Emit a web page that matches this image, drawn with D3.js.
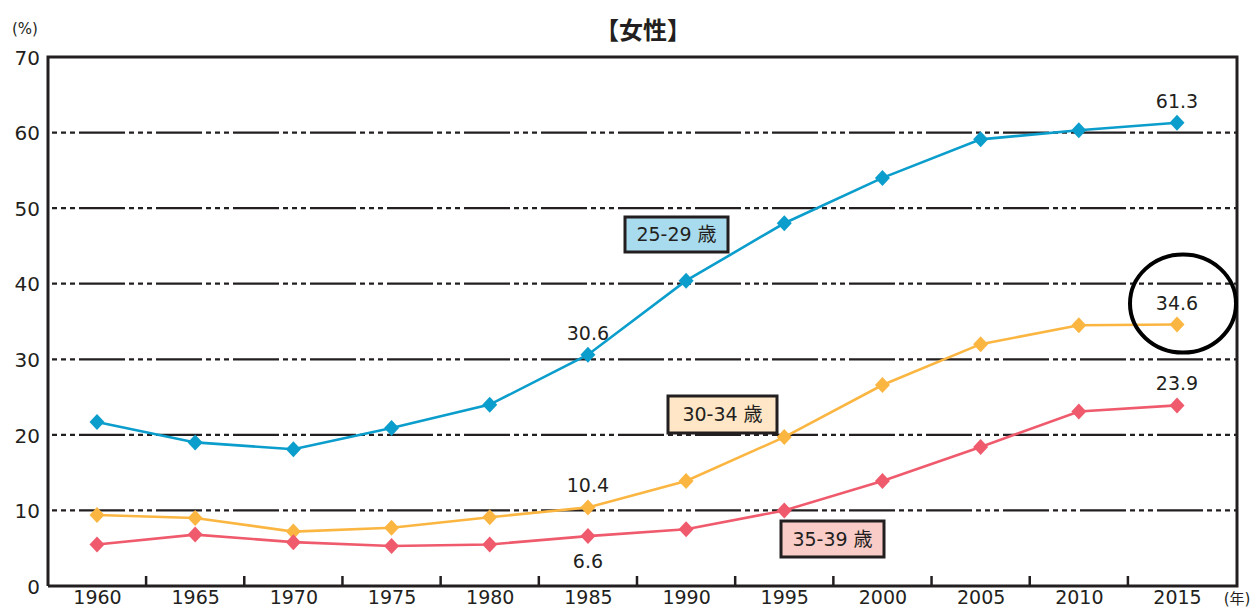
<!DOCTYPE html>
<html>
<head>
<meta charset="utf-8">
<script src="https://cdn.jsdelivr.net/npm/d3@7/dist/d3.min.js"></script>
<style>
  html, body { margin: 0; padding: 0; background: #fff; }
  svg { display: block; }
  text { font-family: "DejaVu Sans", "Noto Sans CJK JP", sans-serif; fill: #231f20; }
</style>
</head>
<body>
<svg id="chart" width="1258" height="611"></svg>
<script>
// Never-married rate of women by age group (%)
const years = [1960, 1965, 1970, 1975, 1980, 1985, 1990, 1995, 2000, 2005, 2010, 2015];
const age25to29 = [21.7, 19.0, 18.1, 20.9, 24.0, 30.6, 40.4, 48.0, 54.0, 59.1, 60.3, 61.3];
const age30to34 = [9.4, 9.0, 7.2, 7.7, 9.1, 10.4, 13.9, 19.7, 26.6, 32.0, 34.5, 34.6];
const age35to39 = [5.5, 6.8, 5.8, 5.3, 5.5, 6.6, 7.5, 10.0, 13.9, 18.4, 23.1, 23.9];
const seriesNames = ["25-29 歳", "30-34 歳", "35-39 歳"];
const yTicks = [0, 10, 20, 30, 40, 50, 60, 70];
const titleText = "【女性】";

const series = [
  { name: seriesNames[0], values: age25to29, color: "#0b9dcb", fill: "#a9dbee",
    box: [625, 217, 103, 35], notes: [[5, "above"], [11, "above"]] },
  { name: seriesNames[1], values: age30to34, color: "#fbb642", fill: "#fee6c6",
    box: [668, 396, 109, 37], notes: [[5, "above"], [11, "above"]] },
  { name: seriesNames[2], values: age35to39, color: "#ef5a6c", fill: "#f9ccc8",
    box: [781, 521, 103, 36], notes: [[5, "below"], [11, "above"]] }
];

const svg = d3.select("#chart");
const plotLeft = 48, plotRight = 1237, plotTop = 57, plotBottom = 586;

const x = d3.scaleLinear().domain([1960, 2015]).range([97, 1177]);
const y = d3.scaleLinear().domain([0, 70]).range([plotBottom, plotTop]);

// Title
svg.append("text").attr("x", 643).attr("y", 39).attr("text-anchor", "middle")
  .style("font-size", "24px").style("font-weight", "bold").text(titleText);

// Unit labels
svg.append("text").attr("x", 25).attr("y", 34).attr("text-anchor", "middle")
  .style("font-size", "15px").text("(%)");
svg.append("text").attr("x", 1237).attr("y", 604).attr("text-anchor", "middle")
  .style("font-size", "15px").text("(年)");

// Dash-dot gridlines
svg.append("g").selectAll("line.grid").data(yTicks.filter(t => t > 0 && t < 70)).join("line")
  .attr("class", "grid")
  .attr("x1", plotLeft).attr("x2", plotRight)
  .attr("y1", d => y(d)).attr("y2", d => y(d))
  .attr("stroke", "#231f20").attr("stroke-width", 2.2)
  .attr("stroke-dasharray", "46,4,5,4,5,4,5,4")
  .attr("stroke-dashoffset", 46);

// Frame: top, left, bottom, right
svg.append("path")
  .attr("d", `M${plotLeft},${plotBottom} V${y(70)} H${plotRight} V${plotBottom} H${plotLeft}`)
  .attr("stroke", "#231f20").attr("stroke-width", 3).attr("fill", "none");

// Y axis labels
const yAxis = d3.axisLeft(y).tickValues(yTicks).tickSize(0).tickPadding(8);
const ya = svg.append("g").attr("transform", `translate(${plotLeft},0)`).call(yAxis);
ya.select(".domain").remove();
ya.selectAll("text").style("font-size", "20px").style("font-family", "DejaVu Sans, sans-serif")
  .attr("fill", "#231f20").attr("dy", "0.36em");

// X axis: labels at each year, ticks between years
const xAxis = d3.axisBottom(x).tickValues(years).tickFormat(d3.format("d")).tickSize(0).tickPadding(5);
const xa = svg.append("g").attr("transform", `translate(0,${plotBottom})`).call(xAxis);
xa.select(".domain").remove();
xa.selectAll("text").style("font-size", "19px").style("font-family", "DejaVu Sans, sans-serif")
  .attr("fill", "#231f20");
const mids = years.slice(0, -1).map(v => v + 2.5);
svg.append("g").selectAll("line").data(mids).join("line")
  .attr("x1", d => x(d)).attr("x2", d => x(d))
  .attr("y1", plotBottom).attr("y2", plotBottom - 10)
  .attr("stroke", "#231f20").attr("stroke-width", 2.5);

// Lines and markers
const line = d3.line().x((d, i) => x(years[i])).y(d => y(d));
const diamond = "M0,-8 L7.5,0 L0,8 L-7.5,0 Z";

series.forEach(s => {
  svg.append("path").datum(s.values).attr("d", line)
    .attr("fill", "none").attr("stroke", s.color).attr("stroke-width", 2.6);
  svg.append("g").selectAll("path").data(s.values).join("path")
    .attr("transform", (d, i) => `translate(${x(years[i])},${y(d)})`)
    .attr("d", diamond).attr("fill", s.color);

  // Value callouts
  s.notes.forEach(([i, pos]) => {
    const v = s.values[i];
    svg.append("text").attr("x", x(years[i]))
      .attr("y", pos === "above" ? y(v) - 15 : y(v) + 32)
      .attr("text-anchor", "middle").style("font-size", "19px")
      .text(d3.format(".1f")(v));
  });

  // Series label box
  const [bx, by, bw, bh] = s.box;
  svg.append("rect").attr("x", bx).attr("y", by).attr("width", bw).attr("height", bh)
    .attr("fill", s.fill).attr("stroke", "#231f20").attr("stroke-width", 3);
  svg.append("text").attr("x", bx + bw / 2).attr("y", by + bh / 2).attr("dy", "0.36em")
    .attr("text-anchor", "middle").style("font-size", "19px").text(s.name);
});

// Highlight ring around the latest 30-34 value
svg.append("ellipse").attr("cx", 1183).attr("cy", y(age30to34[11]) - 21)
  .attr("rx", 53).attr("ry", 49)
  .attr("fill", "none").attr("stroke", "#000").attr("stroke-width", 4);
</script>
</body>
</html>
